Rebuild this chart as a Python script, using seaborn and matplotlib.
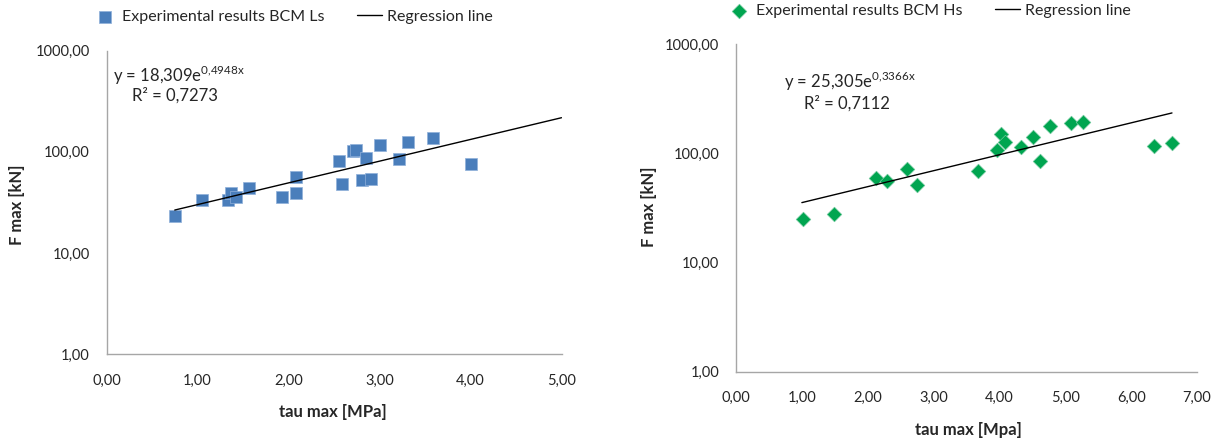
import numpy as np
import pandas as pd
import matplotlib
matplotlib.use("Agg")
import matplotlib.pyplot as plt
import seaborn as sns
from matplotlib.ticker import FixedLocator, FuncFormatter, NullLocator

# ---------------- data ----------------
ls_tau = [0.75, 1.05, 1.34, 1.37, 1.42, 1.57, 1.93, 2.08, 2.08, 2.56, 2.59,
          2.71, 2.74, 2.85, 2.81, 2.91, 3.01, 3.21, 3.31, 3.59, 4.01]
ls_F = [23.2, 33.5, 33.0, 39.0, 35.6, 44.3, 36.1, 56.1, 39.5, 80.9, 48.2,
        103.0, 104.6, 87.8, 52.8, 54.0, 115.5, 85.3, 124.8, 136.5, 76.0]

hs_tau = [1.02, 1.49, 2.12, 2.29, 2.59, 2.75, 3.68, 3.97, 4.03, 4.09, 4.33,
          4.51, 4.62, 4.77, 5.09, 5.27, 6.34, 6.62]
hs_F = [25.1, 27.7, 59.2, 56.3, 72.6, 51.0, 68.6, 107.6, 150.7, 128.3, 115.4,
        141.5, 85.9, 179.8, 190.0, 195.5, 117.9, 123.8]

# regression (exponential trend) coefficients shown on the chart
ls_a, ls_b, ls_xrange = 18.309, 0.4948, [0.75, 5.0]
hs_a, hs_b, hs_xrange = 25.305, 0.3366, [1.00, 6.62]

ls_eq = ["18,309", "0{,}4948x", "0,7273"]
hs_eq = ["25,305", "0{,}3366x", "0,7112"]

y_ticks = [1, 10, 100, 1000]
ls_x_ticks = [0, 1, 2, 3, 4, 5]
hs_x_ticks = [0, 1, 2, 3, 4, 5, 6, 7]

# ---------------- style ----------------
sns.set_theme(style="white")
plt.rcParams['font.family'] = ['Lato', 'DejaVu Sans']
plt.rcParams['mathtext.fontset'] = 'custom'
plt.rcParams['mathtext.rm'] = 'Lato'

blue = "#4A7EBB"
green = "#00A550"
spine_c = "#A6A6A6"
txt_c = "#262626"

fig = plt.figure(figsize=(12.18, 4.43), dpi=100)
W, H = 1218, 443

def px_axes(l, t, r, b):
    return fig.add_axes([l / W, 1 - b / H, (r - l) / W, (b - t) / H])

ax1 = px_axes(106.5, 50.7, 561.5, 354)
ax2 = px_axes(736, 44.3, 1197, 371.7)

comma = FuncFormatter(lambda v, p: f"{v:.2f}".replace(".", ","))

def style_axes(ax, xticks):
    ax.set_yscale("log")
    ax.set_ylim(1, 1000)
    ax.set_xlim(xticks[0], xticks[-1])
    ax.yaxis.set_major_locator(FixedLocator(y_ticks))
    ax.yaxis.set_minor_locator(NullLocator())
    ax.xaxis.set_major_locator(FixedLocator(xticks))
    ax.xaxis.set_major_formatter(comma)
    ax.yaxis.set_major_formatter(comma)
    for s in ["top", "right"]:
        ax.spines[s].set_visible(False)
    for s in ["left", "bottom"]:
        ax.spines[s].set_color(spine_c)
        ax.spines[s].set_linewidth(1.0)
    ax.tick_params(axis="both", length=0, labelsize=10.5, colors=txt_c, pad=12)
    ax.tick_params(axis="x", pad=14)
    ax.set_facecolor("white")

def reg_df(a, b, xr):
    xs = np.linspace(xr[0], xr[1], 50)
    return pd.DataFrame({"x": xs, "y": a * np.exp(b * xs)})

# left chart
df1 = pd.DataFrame({"tau": ls_tau, "F": ls_F})
sns.scatterplot(data=df1, x="tau", y="F", ax=ax1, marker="s", s=80,
                color=blue, edgecolor="#8FB0DA", linewidth=0.5,
                label="Experimental results BCM Ls", zorder=3)
sns.lineplot(data=reg_df(ls_a, ls_b, ls_xrange), x="x", y="y", ax=ax1,
             color="black", linewidth=1.0, label="Regression line", zorder=4)
style_axes(ax1, ls_x_ticks)
ax1.set_xlabel("")
ax1.set_ylabel("")

# right chart
df2 = pd.DataFrame({"tau": hs_tau, "F": hs_F})
sns.scatterplot(data=df2, x="tau", y="F", ax=ax2, marker="D", s=55,
                color=green, edgecolor="#6CC79A", linewidth=0.5,
                label="Experimental results BCM Hs", zorder=3)
sns.lineplot(data=reg_df(hs_a, hs_b, hs_xrange), x="x", y="y", ax=ax2,
             color="black", linewidth=1.0, label="Regression line", zorder=4)
style_axes(ax2, hs_x_ticks)
ax2.set_xlabel("")
ax2.set_ylabel("")

# legends
for ax, x0, y0 in [(ax1, 92, 17), (ax2, 726, 11)]:
    ax.legend(loc="center left", bbox_to_anchor=(x0 / W, 1 - y0 / H),
              bbox_transform=fig.transFigure, ncol=2, frameon=False,
              fontsize=11.5, handlelength=1.6, handletextpad=0.3,
              columnspacing=2.0, borderaxespad=0, borderpad=0,
              labelcolor=txt_c)

# axis labels
def ftext(x, y, s, **kw):
    fig.text(x / W, 1 - y / H, s, **kw)

ftext(17, 205, "F max [kN]", rotation=90, ha="center", va="center",
      fontsize=12, fontweight="bold", color=txt_c)
ftext(333, 412, "tau max [MPa]", ha="center", va="center",
      fontsize=12, fontweight="bold", color=txt_c)
ftext(649, 207, "F max [kN]", rotation=90, ha="center", va="center",
      fontsize=12, fontweight="bold", color=txt_c)
ftext(968, 430, "tau max [Mpa]", ha="center", va="center",
      fontsize=12, fontweight="bold", color=txt_c)

# equations
ftext(113, 75, r"y = %se$^{\mathregular{%s}}$" % (ls_eq[0], ls_eq[1]),
      ha="left", va="center", fontsize=12, color=txt_c)
ftext(132, 95, "R² = %s" % ls_eq[2], ha="left", va="center",
      fontsize=12, color=txt_c)
ftext(784, 81, r"y = %se$^{\mathregular{%s}}$" % (hs_eq[0], hs_eq[1]),
      ha="left", va="center", fontsize=12, color=txt_c)
ftext(804, 103, "R² = %s" % hs_eq[2], ha="left", va="center",
      fontsize=12, color=txt_c)

fig.savefig("out.png", dpi=100, facecolor="white")
